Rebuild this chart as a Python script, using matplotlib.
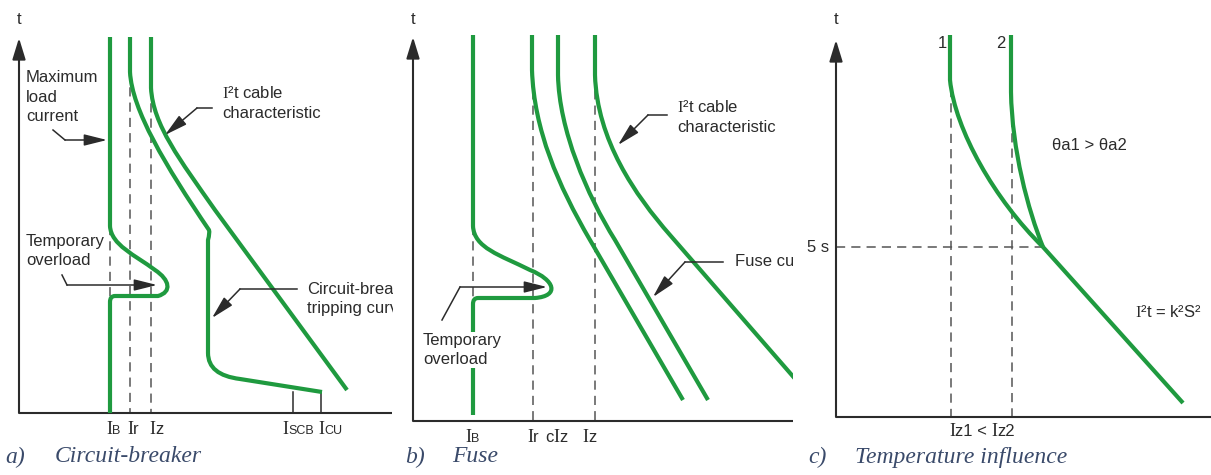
"""Overload protection sketches: circuit-breaker, fuse and temperature influence.

Schematic figure, drawn in the pixel layout of the source picture.
"""

import matplotlib
matplotlib.use('Agg')
import matplotlib.pyplot as plt
from matplotlib.path import Path
from matplotlib.patches import PathPatch
from matplotlib.offsetbox import TextArea, HPacker, AnnotationBbox

plt.rcParams['mathtext.fontset'] = 'custom'
plt.rcParams['mathtext.rm'] = 'Liberation Serif'
plt.rcParams['font.family'] = ['Liberation Sans', 'DejaVu Sans']

W, H = 1211, 475
GREEN = '#1f9a3f'
INK = '#2b2b2b'
DASH = '#555555'
CAPTION = '#3a4a6a'

STYLES = {
    'serif': dict(family='Liberation Serif', size=13, color=INK),
    'sans': dict(family='Liberation Sans', size=12, color=INK),
    'small': dict(family='Liberation Sans', size=9, color=INK),
}

# ---- a) circuit-breaker ----
a_axis = (19, 413, 38, 392)          # t-axis x, I-axis y, arrow tip, axis end
a_load = [('M', 110, 37), ('L', 110, 226), ('C', 111, 245, 135, 255, 155, 270),
          ('C', 170, 280, 172, 292, 158, 296), ('L', 115, 296),
          ('Q', 110, 296, 110, 302), ('L', 110, 413)]
a_trip = [('M', 130, 37), ('L', 130, 72), ('C', 132, 110, 165, 165, 209, 230),
          ('Q', 210, 233, 208, 240), ('L', 208, 353), ('Q', 208, 375, 240, 379),
          ('L', 322, 392)]
a_cable = [('M', 151, 37), ('L', 151, 88), ('C', 153, 125, 180, 160, 215, 210),
           ('L', 347, 390)]
a_guides = [(110, 226, 413), (130, 72, 413), (151, 88, 413)]
a_ticks = [(293, 392, 413), (321, 392, 413)]
a_ticklabels = [(106, [('I', 'serif'), ('B', 'small')]),
                (127, [('I', 'serif'), ('r', 'sans')]),
                (149, [('I', 'serif'), ('z', 'sans')]),
                (282, [('I', 'serif'), ('SCB', 'small')]),
                (318, [('I', 'serif'), ('CU', 'small')])]
a_leaders = [[(53, 130), (65, 140), (107, 140)],
             [(212, 108), (197, 108), (165, 135)],
             [(62, 275), (67, 285), (157, 285)],
             [(297, 289), (240, 289), (212, 318)]]
a_notes = [(26, 97, 'Maximum\nload\ncurrent'),
           (222, 103, '$\\mathrm{I}$²t cable\ncharacteristic'),
           (26, 251, 'Temporary\noverload'),
           (307, 299, 'Circuit-breaker\ntripping curve')]

# ---- b) fuse ----
b_axis = (413, 421, 37, 793)
b_load = [('M', 473, 35), ('L', 473, 226), ('C', 474, 248, 500, 255, 530, 270),
          ('C', 555, 280, 560, 296, 535, 298), ('L', 478, 298),
          ('Q', 473, 298, 473, 304), ('L', 473, 415)]
b_fuse1 = [('M', 532, 35), ('L', 532, 70), ('C', 534, 130, 558, 185, 590, 240),
           ('L', 683, 400)]
b_fuse2 = [('M', 558, 35), ('L', 558, 75), ('C', 559, 130, 587, 195, 615, 240),
           ('L', 708, 400)]
b_cable = [('M', 595, 35), ('L', 595, 75), ('C', 597, 140, 635, 195, 670, 235),
           ('L', 810, 396)]
b_guides = [(473, 226, 300), (533, 75, 421), (595, 75, 421)]
b_ticklabels = [(465, [('I', 'serif'), ('B', 'small')]),
                (527, [('I', 'serif'), ('r', 'sans')]),
                (545, [('c', 'sans'), ('I', 'serif'), ('z', 'sans')]),
                (582, [('I', 'serif'), ('z', 'sans')])]
b_leaders = [[(442, 320), (460, 287), (547, 287)],
             [(667, 115), (648, 115), (618, 145)],
             [(723, 262), (685, 262), (653, 297)]]
b_notes = [(677, 117, '$\\mathrm{I}$²t cable\ncharacteristic'),
           (735, 262, 'Fuse curve')]

# ---- c) temperature influence ----
c_axis = (836, 417, 40, 1211)
c_curve1 = [('M', 950, 35), ('L', 950, 80), ('C', 955, 130, 995, 200, 1043, 247)]
c_curve2 = [('M', 1011, 35), ('L', 1011, 92), ('C', 1012, 150, 1028, 210, 1043, 247)]
c_common = [('M', 1043, 247), ('L', 1183, 403)]
c_guides = [(951, 88, 417), (1012, 118, 417)]
c_level = (247, 836, 1043)           # 5 s line: y, from x, to x
c_notes = [(807, 247, '5 s'), (1052, 146, 'θa1 > θa2'),
           (1135, 312, '$\\mathrm{I}$²t = k²S²')]
c_curve_names = [(942, 43, '1'), (1001, 43, '2')]
c_ticklabel = (982, [('I', 'serif'), ('z1 < ', 'sans'), ('I', 'serif'), ('z2', 'sans')])

captions = [(5, 55, 'a)', 'Circuit-breaker'), (405, 452, 'b)', 'Fuse'),
            (808, 855, 'c)', 'Temperature influence')]


def to_path(segs):
    verts, codes = [], []
    kinds = {'M': [Path.MOVETO], 'L': [Path.LINETO], 'Q': [Path.CURVE3] * 2,
             'C': [Path.CURVE4] * 3}
    for s in segs:
        pts = list(zip(s[1::2], s[2::2]))
        verts += pts
        codes += kinds[s[0]]
    return Path(verts, codes)


def curve(ax, segs):
    ax.add_patch(PathPatch(to_path(segs), fill=False, edgecolor=GREEN, lw=3,
                           joinstyle='round', capstyle='butt', zorder=3))


def axes_frame(ax, spec):
    x0, y0, tip, x1 = spec
    ax.plot([x0, x1], [y0, y0], color=INK, lw=1.5, solid_capstyle='butt', zorder=2)
    ax.annotate('', xy=(x0, tip), xytext=(x0, y0),
                arrowprops=dict(arrowstyle='-|>,head_length=1.3,head_width=0.4',
                                color=INK, lw=1.5, shrinkA=0, shrinkB=0,
                                mutation_scale=10))
    ax.text(x0, 20, 't', ha='center', va='center', **STYLES['sans'])


def guides(ax, items):
    for x, top, bottom in items:
        ax.plot([x, x], [top, bottom], color=DASH, lw=1.1, dashes=(6, 4), zorder=1)


def leader(ax, pts):
    xs, ys = zip(*pts[:-1])
    ax.plot(xs, ys, color=INK, lw=1.1, zorder=4)
    ax.annotate('', xy=pts[-1], xytext=pts[-2],
                arrowprops=dict(arrowstyle='-|>,head_length=1.4,head_width=0.35',
                                color=INK, lw=1.1, shrinkA=0, shrinkB=0,
                                mutation_scale=10), zorder=4)


def runs(ax, x, y, parts, align=0.0):
    kids = [TextArea(s, textprops=STYLES[k]) for s, k in parts]
    box = HPacker(children=kids, align='baseline', pad=0, sep=0)
    ab = AnnotationBbox(box, (x, y), box_alignment=(align, 0.5), frameon=False,
                        pad=0, annotation_clip=False)
    ax.add_artist(ab)


def note(ax, x, y, s, **kw):
    ax.text(x, y, s, ha=kw.pop('ha', 'left'), va='center', linespacing=1.35,
            clip_on=True, zorder=5, **STYLES['sans'], **kw)


fig = plt.figure(figsize=(W / 100, H / 100), dpi=100)
bounds = [(0, 393), (397, 793), (797, W)]
axs = []
for x0, x1 in bounds:
    ax = fig.add_axes([x0 / W, 0, (x1 - x0) / W, 1])
    ax.set_xlim(x0, x1)
    ax.set_ylim(H, 0)
    ax.axis('off')
    axs.append(ax)
ax_a, ax_b, ax_c = axs

# a) circuit-breaker
axes_frame(ax_a, a_axis)
guides(ax_a, a_guides)
for x, top, bottom in a_ticks:
    ax_a.plot([x, x], [top, bottom], color=INK, lw=1.1)
for segs in (a_load, a_trip, a_cable):
    curve(ax_a, segs)
for pts in a_leaders:
    leader(ax_a, pts)
for x, y, s in a_notes:
    note(ax_a, x, y, s)
for x, parts in a_ticklabels:
    runs(ax_a, x, 430, parts)

# b) fuse
axes_frame(ax_b, b_axis)
guides(ax_b, b_guides)
for segs in (b_load, b_fuse1, b_fuse2, b_cable):
    curve(ax_b, segs)
for pts in b_leaders:
    leader(ax_b, pts)
note(ax_b, 423, 350, 'Temporary\noverload',
     bbox=dict(facecolor='white', edgecolor='none', pad=1))
for x, y, s in b_notes:
    note(ax_b, x, y, s)
for x, parts in b_ticklabels:
    runs(ax_b, x, 438, parts)

# c) temperature influence
axes_frame(ax_c, c_axis)
guides(ax_c, c_guides)
y, xa, xb = c_level
ax_c.plot([xa, xb], [y, y], color=DASH, lw=1.1, dashes=(6, 4), zorder=1)
for segs in (c_curve1, c_curve2, c_common):
    curve(ax_c, segs)
for x, y, s in c_notes:
    note(ax_c, x, y, s)
for x, y, s in c_curve_names:
    note(ax_c, x, y, s, ha='center')
runs(ax_c, c_ticklabel[0], 432, c_ticklabel[1], align=0.5)

# captions
for ax, (xl, xt, tag, title) in zip(axs, captions):
    for x, s in ((xl, tag), (xt, title)):
        ax.text(x, 457, s, ha='left', va='center', family='Liberation Serif',
                style='italic', size=17, color=CAPTION)

fig.savefig('out.png', dpi=100, facecolor='white')
